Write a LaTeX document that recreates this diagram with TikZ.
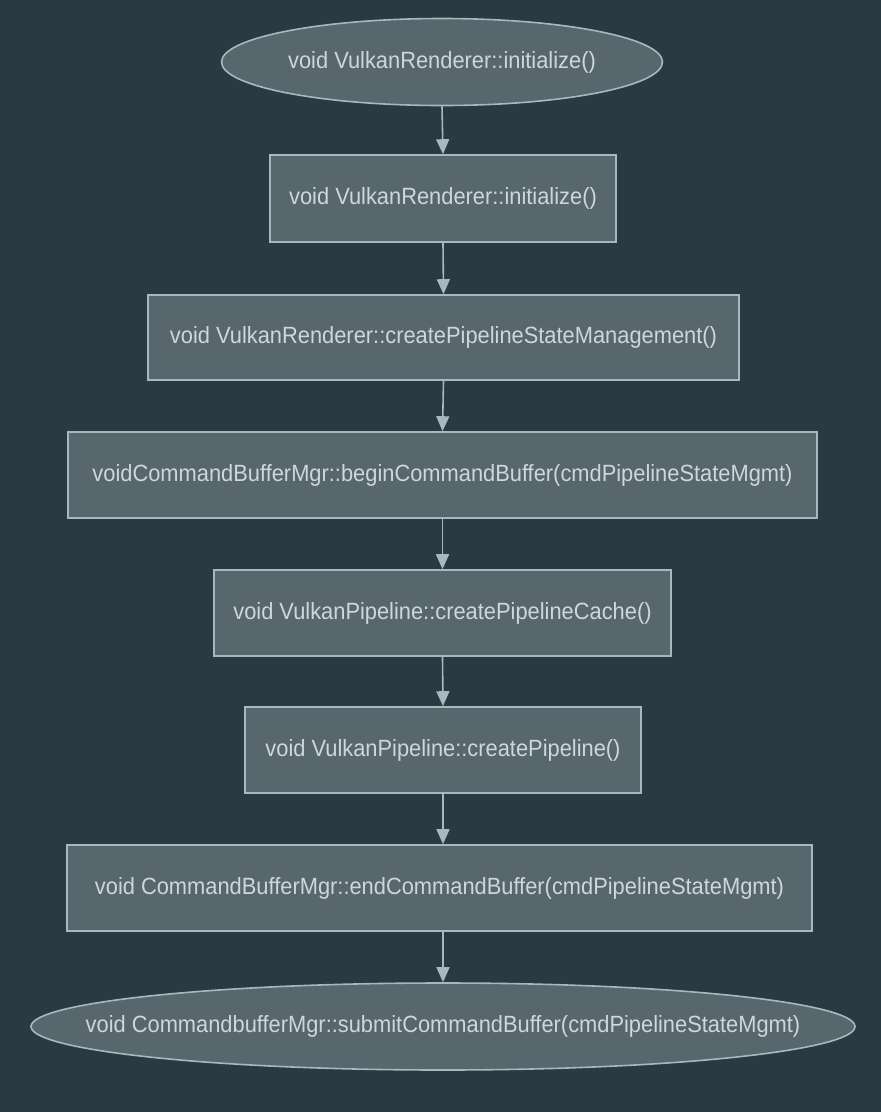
\documentclass[tikz,border=0pt]{standalone}
\usepackage{fontspec}
\setmainfont{Liberation Sans}[FakeStretch=0.93]
\usetikzlibrary{shapes.geometric,arrows.meta}
\definecolor{bg}{HTML}{2B3A42}
\definecolor{boxfill}{HTML}{58666E}
\definecolor{edge}{HTML}{A9B8BE}
\definecolor{txt}{HTML}{CED7DA}
\newcommand{\ztext}[1]{\makebox[0pt][c]{#1}}
\begin{document}
\begin{tikzpicture}[x=1pt,y=-1pt,
  base/.style={draw=edge,line width=1.6pt,fill=boxfill,text=txt,font=\fontsize{23.5}{26}\selectfont,inner sep=0pt},
  stepbox/.style={base,rectangle},
  termnode/.style={base,ellipse},
  flow/.style={draw=edge,line width=1.6pt,-{Triangle[width=13pt,length=15pt]}}]
\fill[bg] (0,0) rectangle (881,1112);
\useasboundingbox (0,0) rectangle (881,1112);
\node[termnode,minimum width=441pt,minimum height=87pt] (n0) at (442,62) {\ztext{void VulkanRenderer::initialize()}};
\node[stepbox,minimum width=346pt,minimum height=87pt] (n1) at (443,198.5) {void VulkanRenderer::initialize()};
\node[stepbox,minimum width=591pt,minimum height=85pt] (n2) at (443.5,337.5) {void VulkanRenderer::createPipelineStateManagement()};
\node[stepbox,minimum width=749pt,minimum height=86pt] (n3) at (442.5,475) {voidCommandBufferMgr::beginCommandBuffer(cmdPipelineStateMgmt)};
\node[stepbox,minimum width=457pt,minimum height=86pt] (n4) at (442.5,613) {void VulkanPipeline::createPipelineCache()};
\node[stepbox,minimum width=396pt,minimum height=86pt] (n5) at (443,750) {void VulkanPipeline::createPipeline()};
\node[stepbox,minimum width=745pt,minimum height=86pt] (n6) at (439.5,888) {void CommandBufferMgr::endCommandBuffer(cmdPipelineStateMgmt)};
\node[termnode,minimum width=824pt,minimum height=87pt] (n7) at (443,1026.5) {\ztext{void CommandbufferMgr::submitCommandBuffer(cmdPipelineStateMgmt)}};
\draw[flow] (n0.south) -- (n1.north);
\draw[flow] (n1.south) -- (n2.north);
\draw[flow] (n2.south) -- (n3.north);
\draw[flow] (n3.south) -- (n4.north);
\draw[flow] (n4.south) -- (n5.north);
\draw[flow] (n5.south) -- (n6.north -| n5.south);
\draw[flow] (n6.south -| n5.south) -- (n7.north);
\end{tikzpicture}
\end{document}
